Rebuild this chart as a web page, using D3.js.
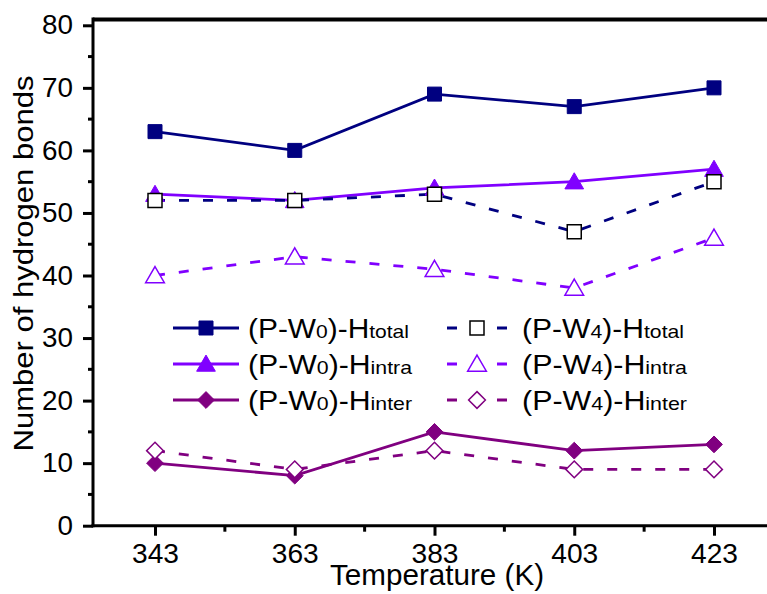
<!DOCTYPE html>
<html><head><meta charset="utf-8">
<script src="https://cdn.jsdelivr.net/npm/d3@7"></script>
<style>html,body{margin:0;padding:0;background:#fff;}svg{display:block;font-family:Arial,"Liberation Sans",sans-serif;}</style>
</head><body>
<svg id="chart" width="767" height="594"></svg>
<script>
const temperatures = [343, 363, 383, 403, 423];
const w0Total = [63, 60, 69, 67, 70];
const w0Intra = [53, 52, 54, 55, 57];
const w0Inter = [10, 8, 15, 12, 13];
const w4Total = [52, 52, 53, 47, 55];
const w4Intra = [40, 43, 41, 38, 46];
const w4Inter = [12, 9, 12, 9, 9];
const yTicks = [0, 10, 20, 30, 40, 50, 60, 70, 80];
const xTicks = [343, 363, 383, 403, 423];

const series = [
  {name: "(P-W0)-Htotal", main: "(P-W", sub1: "0", mid: ")-H", sub2: "total", values: w0Total, color: "#000080", marker: "square", filled: true, dashed: false},
  {name: "(P-W0)-Hintra", main: "(P-W", sub1: "0", mid: ")-H", sub2: "intra", values: w0Intra, color: "#8000FF", marker: "triangle", filled: true, dashed: false},
  {name: "(P-W0)-Hinter", main: "(P-W", sub1: "0", mid: ")-H", sub2: "inter", values: w0Inter, color: "#800080", marker: "diamond", filled: true, dashed: false},
  {name: "(P-W4)-Htotal", main: "(P-W", sub1: "4", mid: ")-H", sub2: "total", values: w4Total, color: "#000080", marker: "square", filled: false, dashed: true},
  {name: "(P-W4)-Hintra", main: "(P-W", sub1: "4", mid: ")-H", sub2: "intra", values: w4Intra, color: "#8000FF", marker: "triangle", filled: false, dashed: true},
  {name: "(P-W4)-Hinter", main: "(P-W", sub1: "4", mid: ")-H", sub2: "inter", values: w4Inter, color: "#800080", marker: "diamond", filled: false, dashed: true}
];

const svg = d3.select("#chart");
const x = d3.scaleLinear().domain([343, 423]).range([155, 714]);
const y = d3.scaleLinear().domain([0, 80]).range([525.7, 25.3]);
const axisLeftX = 93, axisTopY = 19.5, axisBottomY = y(0), rightEdge = 767;

// Axis lines
svg.append("line").attr("x1", axisLeftX).attr("x2", rightEdge).attr("y1", axisTopY).attr("y2", axisTopY).attr("stroke", "#000").attr("stroke-width", 4);
svg.append("line").attr("x1", axisLeftX).attr("x2", axisLeftX).attr("y1", 17.5).attr("y2", axisBottomY + 1.5).attr("stroke", "#000").attr("stroke-width", 3);
svg.append("line").attr("x1", axisLeftX - 1.5).attr("x2", rightEdge).attr("y1", axisBottomY).attr("y2", axisBottomY).attr("stroke", "#000").attr("stroke-width", 3);

// Y axis via d3
const yAxis = d3.axisLeft(y).tickValues(yTicks).tickSize(10).tickPadding(10).tickFormat(d3.format("d"));
const gy = svg.append("g").attr("transform", `translate(${axisLeftX},0)`).call(yAxis);
gy.select(".domain").remove();
gy.selectAll(".tick line").attr("stroke", "#000").attr("stroke-width", 3);
gy.selectAll(".tick text").attr("font-size", 27).attr("fill", "#000")
  .attr("font-family", "Arial, 'Liberation Sans', sans-serif")
  .attr("textLength", d => String(d).length * 15.5).attr("lengthAdjust", "spacingAndGlyphs");
// minor y ticks
const yMinor = d3.range(5, 80, 10);
svg.append("g").selectAll("line").data(yMinor).join("line")
  .attr("x1", axisLeftX - 5).attr("x2", axisLeftX).attr("y1", d => y(d)).attr("y2", d => y(d))
  .attr("stroke", "#000").attr("stroke-width", 3);

// X axis via d3
const xAxis = d3.axisBottom(x).tickValues(xTicks).tickSize(10).tickPadding(8).tickFormat(d3.format("d"));
const gx = svg.append("g").attr("transform", `translate(0,${axisBottomY})`).call(xAxis);
gx.select(".domain").remove();
gx.selectAll(".tick line").attr("stroke", "#000").attr("stroke-width", 3);
gx.selectAll(".tick text").attr("font-size", 27).attr("fill", "#000")
  .attr("font-family", "Arial, 'Liberation Sans', sans-serif")
  .attr("textLength", 47).attr("lengthAdjust", "spacingAndGlyphs");
const xMinor = [353, 373, 393, 413];
svg.append("g").selectAll("line").data(xMinor).join("line")
  .attr("x1", d => x(d)).attr("x2", d => x(d)).attr("y1", axisBottomY).attr("y2", axisBottomY + 6)
  .attr("stroke", "#000").attr("stroke-width", 3);

// Axis titles
svg.append("text").attr("x", 437).attr("y", 585).attr("text-anchor", "middle")
  .attr("font-size", 29).attr("textLength", 214).attr("lengthAdjust", "spacingAndGlyphs")
  .text("Temperature (K)");
svg.append("text").attr("transform", "translate(33,263.5) rotate(-90)").attr("text-anchor", "middle")
  .attr("font-size", 28).attr("textLength", 376).attr("lengthAdjust", "spacingAndGlyphs")
  .text("Number of hydrogen bonds");

// Marker path generator
function markerPath(type, size) {
  const s = size / 2;
  if (type === "square") return `M${-s},${-s}H${s}V${s}H${-s}Z`;
  if (type === "triangle") return `M0,${-s * 1.05}L${s * 1.1},${s * 0.85}L${-s * 1.1},${s * 0.85}Z`;
  if (type === "diamond") return `M0,${-s * 1.2}L${s * 1.2},0L0,${s * 1.2}L${-s * 1.2},0Z`;
}
const markerSize = {square: 14, triangle: 17, diamond: 14};

const line = d3.line().x((d, i) => x(temperatures[i])).y(d => y(d));
series.forEach(s => {
  svg.append("path").datum(s.values).attr("d", line).attr("fill", "none")
    .attr("stroke", s.color).attr("stroke-width", 2.8)
    .attr("stroke-dasharray", s.dashed ? "10,14" : null);
});
series.forEach(s => {
  svg.append("g").selectAll("path").data(s.values).join("path")
    .attr("transform", (d, i) => `translate(${x(temperatures[i])},${y(d)})`)
    .attr("d", markerPath(s.marker, markerSize[s.marker]))
    .attr("fill", s.filled ? s.color : "#fff")
    .attr("stroke", s.filled ? s.color : (s.marker === "square" ? "#000" : s.color))
    .attr("stroke-width", s.filled ? 1 : 1.5);
});

// Legend
const legendCols = [{lineX1: 173, lineX2: 239, textX: 248, textLen: 164}, {lineX1: 447, lineX2: 507, textX: 522, textLen: 165}];
const legendRows = [328, 364, 400];
series.forEach((s, k) => {
  const col = legendCols[Math.floor(k / 3)], ry = legendRows[k % 3];
  const g = svg.append("g");
  g.append("line").attr("x1", col.lineX1).attr("x2", col.lineX2).attr("y1", ry).attr("y2", ry)
    .attr("stroke", s.color).attr("stroke-width", 2.8)
    .attr("stroke-dasharray", s.dashed ? "10,40,10" : null);
  const cx = (col.lineX1 + col.lineX2) / 2;
  g.append("path").attr("transform", `translate(${cx},${ry})`)
    .attr("d", markerPath(s.marker, markerSize[s.marker]))
    .attr("fill", s.filled ? s.color : "#fff")
    .attr("stroke", s.filled ? s.color : (s.marker === "square" ? "#000" : s.color))
    .attr("stroke-width", s.filled ? 1 : 1.5);
  const t = g.append("text").attr("x", col.textX).attr("y", ry + 9.5).attr("font-size", 27).attr("fill", "#000")
    .attr("textLength", s.sub2 === "total" ? col.textLen - 3 : col.textLen).attr("lengthAdjust", "spacingAndGlyphs");
  t.append("tspan").text(s.main);
  t.append("tspan").attr("font-size", 19).text(s.sub1);
  t.append("tspan").text(s.mid);
  t.append("tspan").attr("font-size", 19).text(s.sub2);
});
</script>
</body></html>
